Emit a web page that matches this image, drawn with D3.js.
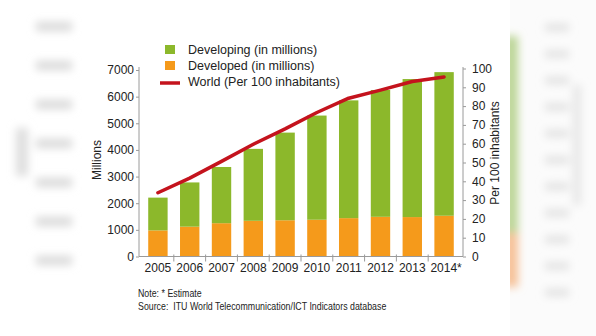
<!DOCTYPE html>
<html>
<head>
<meta charset="utf-8">
<script src="https://cdn.jsdelivr.net/npm/d3@7"></script>
<style>
  body { margin: 0; background: #fff; }
  text { font-family: "Liberation Sans", Arial, sans-serif; fill: #222; }
</style>
</head>
<body>
<svg id="my_svg"></svg>
<script>
const width = 596;
const height = 336;

// data
const years = ['2005', '2006', '2007', '2008', '2009', '2010', '2011', '2012', '2013', '2014*'];
const developed = [980, 1120, 1250, 1340, 1360, 1380, 1440, 1490, 1480, 1530];
const developing = [1230, 1660, 2110, 2700, 3290, 3910, 4420, 4760, 5180, 5390];
const worldPer100 = [33.9, 41.7, 50.6, 59.7, 67.9, 76.6, 84.2, 88.5, 93.1, 95.5];
const leftTicks = [0, 1000, 2000, 3000, 4000, 5000, 6000, 7000];
const rightTicks = [0, 10, 20, 30, 40, 50, 60, 70, 80, 90, 100];
const legendItems = ['Developing (in millions)', 'Developed (in millions)', 'World (Per 100 inhabitants)'];

const green = '#8cb82b';
const orange = '#f59a1b';
const red = '#c4131d';

const svg = d3.select('#my_svg')
    .attr('width', width)
    .attr('height', height);

// blurred side bands (the photo's padding)
const defs = svg.append('defs');
defs.append('filter').attr('id', 'blur')
    .attr('x', '-50%').attr('y', '-50%').attr('width', '200%').attr('height', '200%')
    .append('feGaussianBlur').attr('stdDeviation', 4);
defs.append('clipPath').attr('id', 'leftBand')
    .append('rect').attr('x', 0).attr('y', 0).attr('width', 84).attr('height', height);
defs.append('clipPath').attr('id', 'rightBand')
    .append('rect').attr('x', 510).attr('y', 0).attr('width', 86).attr('height', height);

const bgLeft = svg.append('g').attr('clip-path', 'url(#leftBand)')
    .append('g').attr('filter', 'url(#blur)');
bgLeft.selectAll('rect')
    .data(d3.range(7))
    .enter().append('rect')
    .attr('x', 36).attr('y', i => 22 + i * 39)
    .attr('width', 36).attr('height', 9)
    .attr('fill', '#d9d9d9');
bgLeft.append('rect').attr('x', 16).attr('y', 128).attr('width', 12).attr('height', 48).attr('fill', '#dedede');

const bgRight = svg.append('g').attr('clip-path', 'url(#rightBand)');
bgRight.append('rect').attr('x', 510).attr('y', 0).attr('width', 86).attr('height', height).attr('fill', '#fbfbfb');
const bgRightBlur = bgRight.append('g').attr('filter', 'url(#blur)');
bgRightBlur.selectAll('.rblob')
    .data(d3.range(11))
    .enter().append('rect')
    .attr('x', 545).attr('y', i => 24 + i * 26.5)
    .attr('width', 24).attr('height', 7)
    .attr('fill', '#e0e0e0');
bgRightBlur.append('rect').attr('x', 573).attr('y', 85).attr('width', 8).attr('height', 120).attr('fill', '#e6e6e6');
bgRightBlur.append('rect').attr('x', 504).attr('y', 36).attr('width', 14).attr('height', 197).attr('fill', '#bcd596');
bgRightBlur.append('rect').attr('x', 504).attr('y', 233).attr('width', 14).attr('height', 54).attr('fill', '#f6c197');

const axisLeftX = 139;
const axisRightX = 463;
const baseY = 256.5;

const x = d3.scaleBand()
    .domain(years)
    .range([axisLeftX, axisRightX])
    .paddingInner(0.39)
    .paddingOuter(0.29);

const yLeft = d3.scaleLinear().domain([0, 7000]).range([baseY, 70]);
const yRight = d3.scaleLinear().domain([0, 100]).range([baseY, 68.5]);

const rows = years.map((y, i) => ({ year: y, developed: developed[i], developing: developing[i], world: worldPer100[i] }));
const stack = d3.stack().keys(['developed', 'developing'])(rows);
const colors = { developed: orange, developing: green };

// bars
svg.append('g').selectAll('g')
    .data(stack)
    .enter().append('g')
    .attr('fill', d => colors[d.key])
    .selectAll('rect')
    .data(d => d)
    .enter().append('rect')
    .attr('x', d => x(d.data.year))
    .attr('y', d => yLeft(d[1]))
    .attr('width', x.bandwidth())
    .attr('height', d => yLeft(d[0]) - yLeft(d[1]));

// axes
const axisColor = '#9a9a9a';
const leftAxis = svg.append('g')
    .attr('transform', `translate(${axisLeftX},0)`)
    .call(d3.axisLeft(yLeft).tickValues(leftTicks).tickFormat(d3.format('d')).tickSize(3).tickPadding(2));
const rightAxis = svg.append('g')
    .attr('transform', `translate(${axisRightX},0)`)
    .call(d3.axisRight(yRight).tickValues(rightTicks).tickFormat(d3.format('d')).tickSize(3).tickPadding(6));
[leftAxis, rightAxis].forEach(a => {
    a.select('.domain').remove();
    a.selectAll('.tick line').attr('stroke', axisColor);
    a.selectAll('.tick text').attr('font-size', 12).attr('fill', '#222')
        .attr('font-family', '"Liberation Sans", Arial, sans-serif');
    a.append('line').attr('y1', baseY).attr('y2', 67).attr('stroke', axisColor);
});

// x axis
const xAxis = svg.append('g');
xAxis.append('line')
    .attr('x1', axisLeftX).attr('x2', axisRightX)
    .attr('y1', baseY).attr('y2', baseY)
    .attr('stroke', axisColor);
xAxis.selectAll('.sep')
    .data(years.slice(1))
    .enter().append('line')
    .attr('x1', d => x(d) - x.step() * x.paddingInner() / 2)
    .attr('x2', d => x(d) - x.step() * x.paddingInner() / 2)
    .attr('y1', baseY - 2).attr('y2', baseY + 5)
    .attr('stroke', axisColor);
xAxis.selectAll('.lbl')
    .data(years)
    .enter().append('text')
    .attr('x', d => x(d) + x.bandwidth() / 2 + (d.endsWith('*') ? 2 : 0))
    .attr('y', 272)
    .attr('text-anchor', 'middle')
    .attr('font-size', 12)
    .text(d => d);

// world line
const line = d3.line()
    .x(d => x(d.year) + x.bandwidth() / 2)
    .y(d => yRight(d.world));
svg.append('path')
    .datum(rows)
    .attr('d', line)
    .attr('fill', 'none')
    .attr('stroke', red)
    .attr('stroke-width', 3.5)
    .attr('stroke-linecap', 'round')
    .attr('stroke-linejoin', 'round');

// axis titles
svg.append('text')
    .attr('transform', 'translate(101,160) rotate(-90)')
    .attr('text-anchor', 'middle')
    .attr('font-size', 12)
    .text('Millions');
svg.append('text')
    .attr('transform', 'translate(499,153) rotate(-90)')
    .attr('text-anchor', 'middle')
    .attr('font-size', 12)
    .text('Per 100 inhabitants');

// legend
const legend = svg.append('g').selectAll('g')
    .data(legendItems)
    .enter().append('g')
    .attr('transform', (d, i) => `translate(0,${49 + i * 16})`);
legend.filter((d, i) => i < 2).append('rect')
    .attr('x', 165).attr('y', -4)
    .attr('width', 10).attr('height', 9)
    .attr('fill', (d, i) => i === 0 ? green : orange);
legend.filter((d, i) => i === 2).append('line')
    .attr('x1', 160).attr('x2', 180)
    .attr('y1', 2).attr('y2', 2)
    .attr('stroke', red).attr('stroke-width', 3.5);
legend.append('text')
    .attr('x', 188).attr('y', 4.5)
    .attr('font-size', 12.5)
    .text(d => d);

// notes (condensed face)
const notes = svg.append('g')
    .attr('transform', 'translate(138,0) scale(0.84,1)');
notes.append('text')
    .attr('x', 0).attr('y', 297)
    .attr('font-size', 10.5)
    .attr('fill', '#111')
    .text('Note: * Estimate');
notes.append('text')
    .attr('x', 0).attr('y', 310)
    .attr('font-size', 10.5)
    .attr('fill', '#111')
    .attr('xml:space', 'preserve')
    .text('Source:  ITU World Telecommunication/ICT Indicators database');
</script>
</body>
</html>
